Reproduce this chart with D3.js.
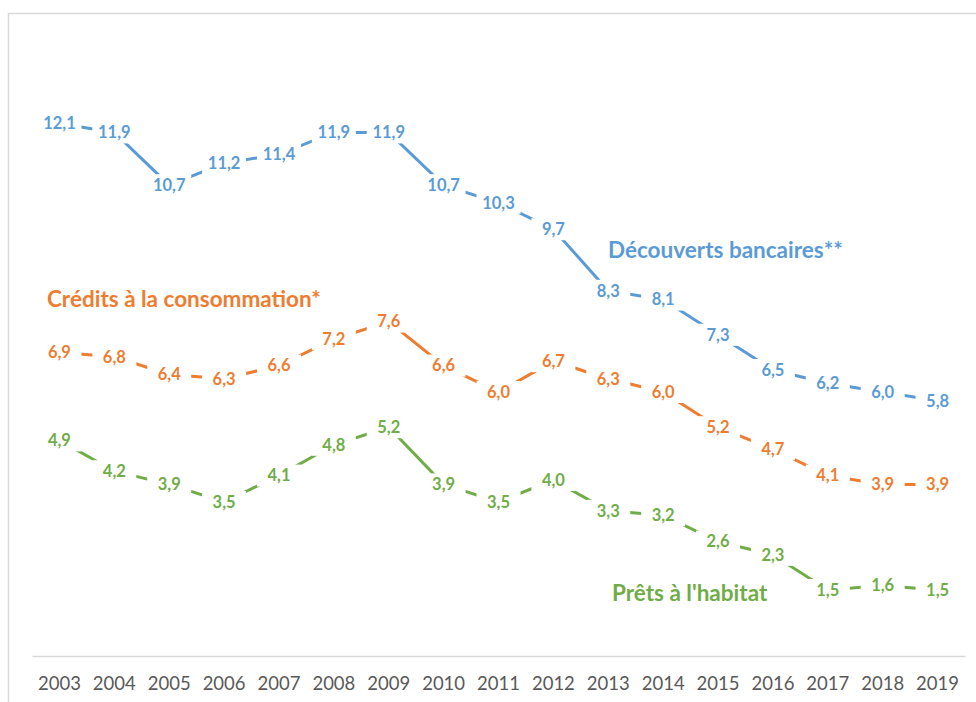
<!DOCTYPE html>
<html>
<head>
<meta charset="utf-8">
<script src="https://cdn.jsdelivr.net/npm/d3@7"></script>
<style>
  body { margin: 0; background: #fff; }
  svg { display: block; }
</style>
</head>
<body>
<svg id="chart"></svg>
<script>
const years = ['2003', '2004', '2005', '2006', '2007', '2008', '2009', '2010', '2011',
  '2012', '2013', '2014', '2015', '2016', '2017', '2018', '2019'];

const decouverts = [12.1, 11.9, 10.7, 11.2, 11.4, 11.9, 11.9, 10.7, 10.3, 9.7, 8.3, 8.1, 7.3, 6.5, 6.2, 6.0, 5.8];
const credits = [6.9, 6.8, 6.4, 6.3, 6.6, 7.2, 7.6, 6.6, 6.0, 6.7, 6.3, 6.0, 5.2, 4.7, 4.1, 3.9, 3.9];
const prets = [4.9, 4.2, 3.9, 3.5, 4.1, 4.8, 5.2, 3.9, 3.5, 4.0, 3.3, 3.2, 2.6, 2.3, 1.5, 1.6, 1.5];

const seriesNames = ['Découverts bancaires**', 'Crédits à la consommation*', "Prêts à l'habitat"];

const width = 976, height = 702;
const margin = { top: 40, right: 11, bottom: 46, left: 32 };
const innerW = width - margin.left - margin.right;
const innerH = height - margin.top - margin.bottom;

const series = [
  { name: seriesNames[0], values: decouverts, color: '#5B9BD5', labelX: 608, labelY: 250 },
  { name: seriesNames[1], values: credits, color: '#ED7D31', labelX: 47, labelY: 299 },
  { name: seriesNames[2], values: prets, color: '#70AD47', labelX: 612, labelY: 593 }
];

const svg = d3.select('#chart')
  .attr('width', width)
  .attr('height', height);

// chart area border
svg.append('rect')
  .attr('x', 8.5)
  .attr('y', 13.5)
  .attr('width', width + 10)
  .attr('height', height + 10)
  .attr('fill', 'none')
  .attr('stroke', '#d9d9d9')
  .attr('stroke-width', 1.5);

const g = svg.append('g')
  .attr('transform', `translate(${margin.left},${margin.top})`);

const xScale = d3.scaleBand()
  .domain(years)
  .range([0, innerW]);

const yScale = d3.scaleLinear()
  .domain([0, 14])
  .range([innerH, 0]);

const xCenter = d => xScale(d) + xScale.bandwidth() / 2;

// X axis
const xAxis = d3.axisBottom(xScale)
  .tickSize(0)
  .tickPadding(21);

const xAxisG = g.append('g')
  .attr('class', 'x-axis')
  .attr('transform', `translate(0,${innerH})`)
  .call(xAxis);
xAxisG.select('.domain')
  .attr('stroke', '#d9d9d9')
  .attr('stroke-width', 1.5);
xAxisG.selectAll('text')
  .attr('fill', '#595959')
  .attr('font-family', 'Lato, "Open Sans", sans-serif')
  .attr('font-size', 18.5);

const line = d3.line()
  .x((d, i) => xCenter(years[i]))
  .y(d => yScale(d));

const fmt = v => d3.format('.1f')(v).replace('.', ',');

series.forEach(s => {
  g.append('path')
    .datum(s.values)
    .attr('fill', 'none')
    .attr('stroke', s.color)
    .attr('stroke-width', 3)
    .attr('d', line);

  const labels = g.append('g').selectAll('g')
    .data(s.values)
    .join('g')
      .attr('transform', (d, i) => `translate(${xCenter(years[i])},${yScale(d)})`);

  labels.append('rect')
    .attr('x', -22)
    .attr('y', -11)
    .attr('width', 44)
    .attr('height', 22)
    .attr('fill', '#fff');

  labels.append('text')
    .attr('text-anchor', 'middle')
    .attr('dy', '0.35em')
    .attr('fill', s.color)
    .attr('font-family', 'Lato, "Open Sans", sans-serif')
    .attr('font-weight', 'bold')
    .attr('font-size', 16.5)
    .text(d => fmt(d));

  // series name
  svg.append('text')
    .attr('x', s.labelX)
    .attr('y', s.labelY)
    .attr('dy', '0.35em')
    .attr('fill', s.color)
    .attr('font-family', 'Lato, "Open Sans", sans-serif')
    .attr('font-weight', 'bold')
    .attr('font-size', 22.5)
    .text(s.name);
});
</script>
</body>
</html>
